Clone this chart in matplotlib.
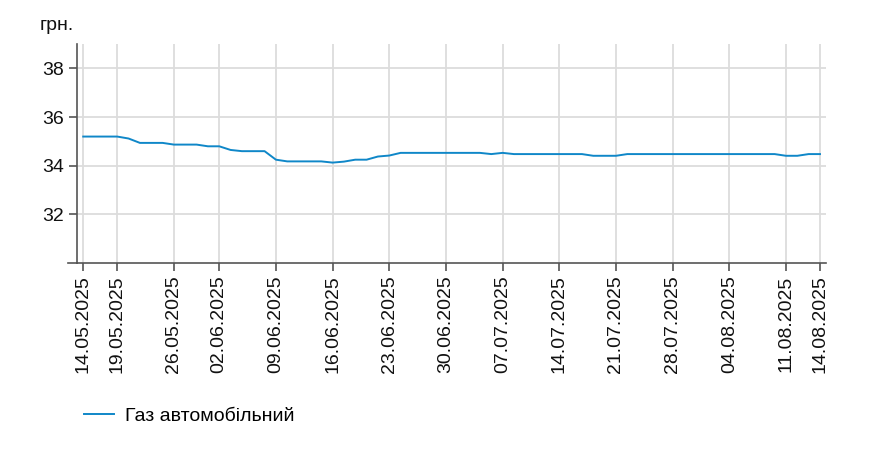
import matplotlib.pyplot as plt

# ================================
# Data: autogas price, UAH (business days)
# ================================
dates = [
    "14.05.2025", "15.05.2025", "16.05.2025", "19.05.2025", "20.05.2025", "21.05.2025",
    "22.05.2025", "23.05.2025", "26.05.2025", "27.05.2025", "28.05.2025", "29.05.2025",
    "02.06.2025", "03.06.2025", "04.06.2025", "05.06.2025", "06.06.2025",
    "09.06.2025", "10.06.2025", "11.06.2025", "12.06.2025", "13.06.2025",
    "16.06.2025", "17.06.2025", "18.06.2025", "19.06.2025", "20.06.2025",
    "23.06.2025", "24.06.2025", "25.06.2025", "26.06.2025", "27.06.2025",
    "30.06.2025", "01.07.2025", "02.07.2025", "03.07.2025", "04.07.2025",
    "07.07.2025", "08.07.2025", "09.07.2025", "10.07.2025", "11.07.2025",
    "14.07.2025", "15.07.2025", "16.07.2025", "17.07.2025", "18.07.2025",
    "21.07.2025", "22.07.2025", "23.07.2025", "24.07.2025", "25.07.2025",
    "28.07.2025", "29.07.2025", "30.07.2025", "31.07.2025", "01.08.2025",
    "04.08.2025", "05.08.2025", "06.08.2025", "07.08.2025", "08.08.2025",
    "11.08.2025", "12.08.2025", "13.08.2025", "14.08.2025",
]

gas_price = [
    35.20, 35.20, 35.20, 35.20, 35.12, 34.94, 34.94, 34.94, 34.87, 34.87, 34.87, 34.80,
    34.80, 34.65, 34.60, 34.60, 34.60,
    34.25, 34.18, 34.18, 34.18, 34.18,
    34.13, 34.17, 34.25, 34.25, 34.38,
    34.42, 34.53, 34.53, 34.53, 34.53,
    34.53, 34.53, 34.53, 34.53, 34.48,
    34.53, 34.48, 34.48, 34.48, 34.48,
    34.48, 34.48, 34.48, 34.41, 34.41,
    34.41, 34.48, 34.48, 34.48, 34.48,
    34.48, 34.48, 34.48, 34.48, 34.48,
    34.48, 34.48, 34.48, 34.48, 34.48,
    34.41, 34.41, 34.48, 34.48,
]

tick_labels = [
    "14.05.2025", "19.05.2025", "26.05.2025", "02.06.2025", "09.06.2025",
    "16.06.2025", "23.06.2025", "30.06.2025", "07.07.2025", "14.07.2025",
    "21.07.2025", "28.07.2025", "04.08.2025", "11.08.2025", "14.08.2025",
]
y_ticks = [32, 34, 36, 38]

series_name = "Газ автомобільний"
unit = "грн."

# ================================
# Plot
# ================================
plt.rcParams['font.family'] = ['Liberation Sans', 'DejaVu Sans']

fig = plt.figure(figsize=(8.7, 4.69), dpi=100)
ax = fig.add_axes([0.0885, 0.439, 0.8605, 0.467])

x = list(range(len(dates)))
line, = ax.plot(x, gas_price, color='#0f87c8', linewidth=1.4, label=series_name)

ax.set_xlim(-0.55, len(dates) - 0.5)
ax.set_ylim(30, 39)
ax.set_yticks(y_ticks)
ax.set_xticks([dates.index(d) for d in tick_labels])
ax.set_xticklabels(tick_labels, rotation=90)

ax.grid(True, color='#dcdcdc', linewidth=1.3)
ax.set_axisbelow(True)

for side in ['top', 'right']:
    ax.spines[side].set_visible(False)
for side in ['left', 'bottom']:
    ax.spines[side].set_color('#555555')
    ax.spines[side].set_linewidth(1.2)
ax.tick_params(axis='both', colors='#555555', length=6, width=1.2,
               labelsize=14, labelcolor='#111111')
ax.tick_params(axis='x', pad=3)

# small overhang of the x axis to the left of the y axis
ax.plot([-0.012, 0], [0, 0], transform=ax.transAxes, color='#555555',
        linewidth=1.2, clip_on=False)

fig.text(0.046, 0.928, unit, fontsize=14, color='#111111', ha='left', va='bottom')

fig.legend(handles=[line], loc='center left', bbox_to_anchor=(0.076, 0.113),
           frameon=False, fontsize=14, handlelength=1.55, handletextpad=0.57)

plt.savefig('out.png', dpi=100)
plt.close()
